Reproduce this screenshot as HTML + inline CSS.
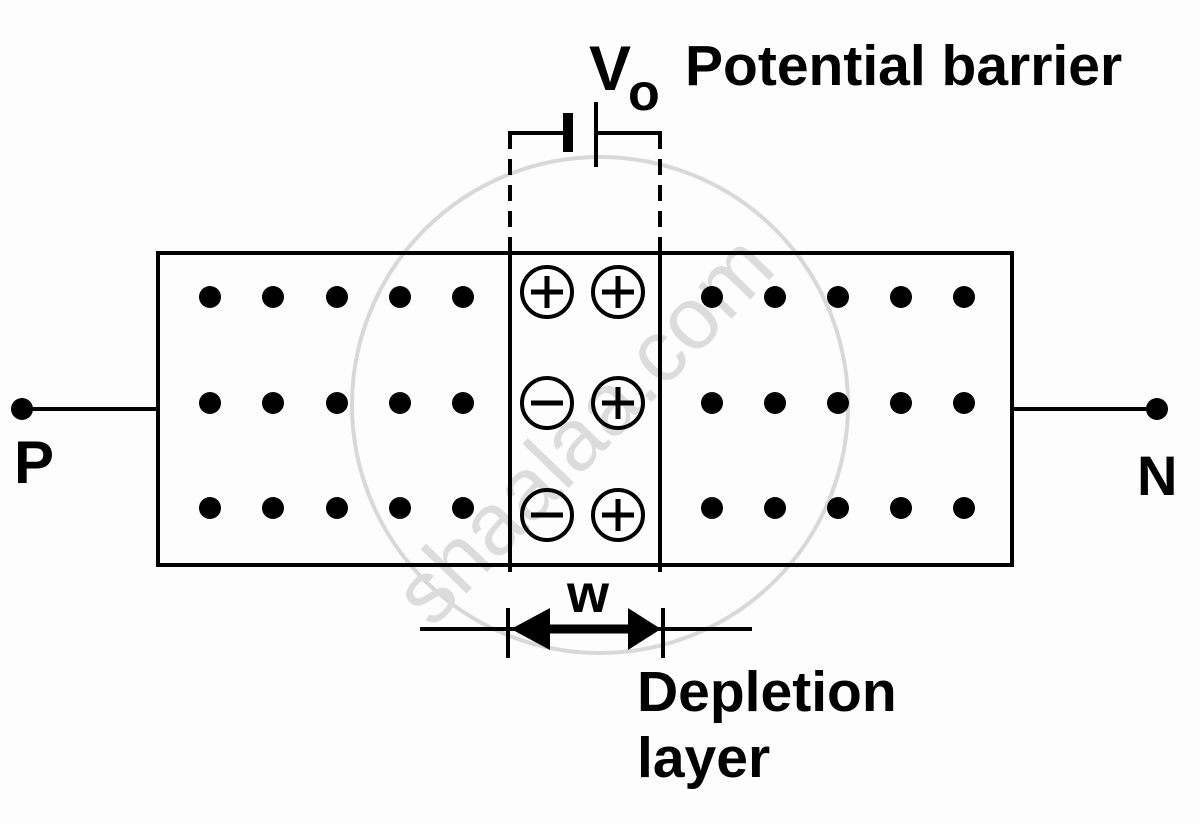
<!DOCTYPE html>
<html><head><style>
html,body{margin:0;padding:0;background:#fff;}
svg{display:block;}
text{font-family:"Liberation Sans",sans-serif;font-weight:bold;fill:#000;}
</style></head><body>
<svg width="1200" height="824" viewBox="0 0 1200 824" xmlns="http://www.w3.org/2000/svg">
<rect width="1200" height="824" fill="#fdfdfd"/>
<!-- watermark -->
<circle cx="600" cy="405" r="248" fill="none" stroke="#d8d8d8" stroke-width="4"/>
<text x="605" y="450" transform="rotate(-46 605 450)" text-anchor="middle" style="font-weight:normal;font-size:88px;fill:#dcdcdc">shaalaa.com</text>
<g stroke="#000" stroke-width="4" fill="none">
<rect x="158" y="253" width="854" height="312"/>
<line x1="510" y1="253" x2="510" y2="572"/>
<line x1="660" y1="253" x2="660" y2="572"/>
<line x1="510" y1="253" x2="510" y2="133" stroke-dasharray="16,10"/>
<line x1="660" y1="253" x2="660" y2="133" stroke-dasharray="16,10"/>
<polyline points="508,133 568,133"/>
<polyline points="596,133 662,133"/>
<line x1="596" y1="102" x2="596" y2="167"/>
<line x1="22" y1="409" x2="158" y2="409"/>
<line x1="1012" y1="409" x2="1157" y2="409"/>
<line x1="420" y1="629" x2="752" y2="629"/>
<line x1="508" y1="608" x2="508" y2="658"/>
<line x1="663" y1="608" x2="663" y2="658"/>
<line x1="545" y1="629" x2="630" y2="629" stroke-width="9"/>
</g>
<rect x="563" y="113" width="10" height="39" fill="#000"/>
<polygon points="511,629 550,608 550,650" fill="#000"/>
<polygon points="661,629 628,608 628,650" fill="#000"/>
<circle cx="22" cy="409" r="11" fill="#000"/>
<circle cx="1157" cy="409" r="11" fill="#000"/>
<g fill="#000">
<circle cx="210" cy="297" r="11"/><circle cx="273" cy="297" r="11"/><circle cx="337" cy="297" r="11"/><circle cx="400" cy="297" r="11"/><circle cx="463" cy="297" r="11"/>
<circle cx="210" cy="403" r="11"/><circle cx="273" cy="403" r="11"/><circle cx="337" cy="403" r="11"/><circle cx="400" cy="403" r="11"/><circle cx="463" cy="403" r="11"/>
<circle cx="210" cy="508" r="11"/><circle cx="273" cy="508" r="11"/><circle cx="337" cy="508" r="11"/><circle cx="400" cy="508" r="11"/><circle cx="463" cy="508" r="11"/>
<circle cx="712" cy="297" r="11"/><circle cx="775" cy="297" r="11"/><circle cx="838" cy="297" r="11"/><circle cx="901" cy="297" r="11"/><circle cx="964" cy="297" r="11"/>
<circle cx="712" cy="403" r="11"/><circle cx="775" cy="403" r="11"/><circle cx="838" cy="403" r="11"/><circle cx="901" cy="403" r="11"/><circle cx="964" cy="403" r="11"/>
<circle cx="712" cy="508" r="11"/><circle cx="775" cy="508" r="11"/><circle cx="838" cy="508" r="11"/><circle cx="901" cy="508" r="11"/><circle cx="964" cy="508" r="11"/>
</g>
<g stroke="#000" stroke-width="4" fill="none">
<circle cx="547" cy="292" r="25"/><circle cx="618" cy="292" r="25"/>
<circle cx="547" cy="403" r="25"/><circle cx="618" cy="403" r="25"/>
<circle cx="547" cy="515" r="25"/><circle cx="618" cy="515" r="25"/>
</g>
<g stroke="#000" stroke-width="5">
<line x1="531" y1="292" x2="563" y2="292"/><line x1="547" y1="276" x2="547" y2="308"/>
<line x1="602" y1="292" x2="634" y2="292"/><line x1="618" y1="276" x2="618" y2="308"/>
<line x1="531" y1="403" x2="563" y2="403"/>
<line x1="602" y1="403" x2="634" y2="403"/><line x1="618" y1="387" x2="618" y2="419"/>
<line x1="531" y1="515" x2="563" y2="515"/>
<line x1="602" y1="515" x2="634" y2="515"/><line x1="618" y1="499" x2="618" y2="531"/>
</g>
<text x="589" y="90" style="font-size:63px">V</text>
<text x="628" y="110" style="font-size:52px">o</text>
<text x="685" y="85" style="font-size:57px">Potential barrier</text>
<text x="14" y="483" style="font-size:60px">P</text>
<text x="1137" y="495" style="font-size:56px">N</text>
<text x="588" y="612" text-anchor="middle" style="font-size:54px">w</text>
<text x="637" y="711" style="font-size:57px">Depletion</text>
<text x="637" y="777" style="font-size:57px">layer</text>
</svg>
</body></html>
